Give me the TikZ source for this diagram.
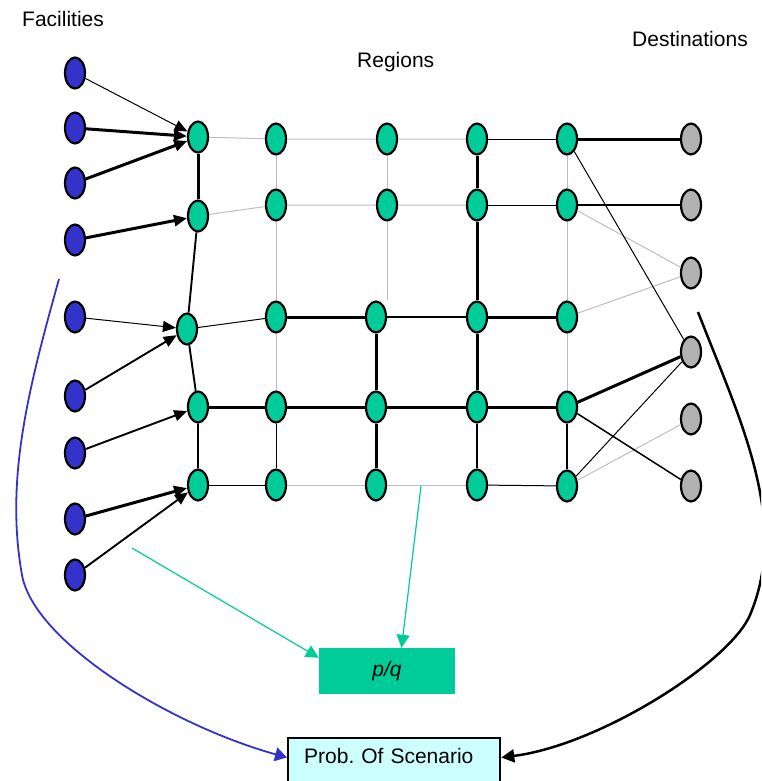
\documentclass[tikz,border=0pt]{standalone}
\usepackage{fontspec}
\setmainfont{Liberation Sans}
\usetikzlibrary{arrows.meta,shapes.geometric}
\definecolor{facblue}{RGB}{51,51,204}
\definecolor{regreen}{RGB}{0,204,153}
\definecolor{destgray}{RGB}{178,178,178}
\definecolor{probcyan}{RGB}{204,255,255}
\definecolor{gridgray}{RGB}{190,190,190}
\frenchspacing
\begin{document}
\begin{tikzpicture}[x=1pt,y=-1pt,
    every node/.style={font=\fontsize{21}{25}\selectfont},
    facnode/.style={draw,ellipse,line width=2.2pt,fill=facblue,minimum width=20pt,minimum height=31pt,inner sep=0pt},
    regnode/.style={facnode,fill=regreen},
    destnode/.style={facnode,fill=destgray},
    lbl/.style={anchor=base west,inner sep=0pt},
    heavyline/.style={line width=3pt},
    medline/.style={line width=1.9pt},
    liteline/.style={line width=1pt},
    gridline/.style={line width=1pt,draw=gridgray},
    feed/.style={-{Triangle[length=13pt,width=11pt]}},
    pqfeed/.style={draw=regreen,line width=1.2pt,-{Triangle[length=13pt,width=13pt]}},
    probbox/.style={draw,line width=2.3pt,fill=probcyan,anchor=base west,inner xsep=16pt,inner ysep=0pt,text width=180pt,align=left,text height=25pt,text depth=30pt},
    pqbox/.style={fill=regreen,minimum width=136pt,minimum height=46pt,inner sep=0pt}]
    \useasboundingbox (0,0) rectangle (761,781);
    \clip (0,0) rectangle (761,781);
    \node (facLbl) [lbl] at (22,27) {Facilities};
    \node (regLbl) [lbl] at (357,68) {Regions};
    \node (destLbl) [lbl] at (632,47) {Destinations};
    \node (F1) [facnode] at (75,73) {};
    \node (F2) [facnode] at (75,128) {};
    \node (F3) [facnode] at (75,183) {};
    \node (F4) [facnode] at (75,240) {};
    \node (F5) [facnode] at (75,317) {};
    \node (F6) [facnode] at (75,396) {};
    \node (F7) [facnode] at (75,453) {};
    \node (F8) [facnode] at (75,519) {};
    \node (F9) [facnode] at (75,575) {};
    \node (G11) [regnode] at (198,137) {};
    \node (G12) [regnode] at (198,216) {};
    \node (G13) [regnode] at (187,329) {};
    \node (G14) [regnode] at (198,407) {};
    \node (G15) [regnode] at (198,485) {};
    \node (G21) [regnode] at (276,139) {};
    \node (G22) [regnode] at (276,205) {};
    \node (G23) [regnode] at (276,317) {};
    \node (G24) [regnode] at (276,407) {};
    \node (G25) [regnode] at (276,485) {};
    \node (G31) [regnode] at (387,139) {};
    \node (G32) [regnode] at (387,205) {};
    \node (G33) [regnode] at (376,317) {};
    \node (G34) [regnode] at (376,407) {};
    \node (G35) [regnode] at (376,485) {};
    \node (G41) [regnode] at (477,139) {};
    \node (G42) [regnode] at (477,205) {};
    \node (G43) [regnode] at (477,317) {};
    \node (G44) [regnode] at (477,407) {};
    \node (G45) [regnode] at (477,485) {};
    \node (G51) [regnode] at (567,139) {};
    \node (G52) [regnode] at (567,205) {};
    \node (G53) [regnode] at (567,317) {};
    \node (G54) [regnode] at (567,407) {};
    \node (G55) [regnode] at (567,486) {};
    \node (D1) [destnode] at (691,139) {};
    \node (D2) [destnode] at (691,205) {};
    \node (D3) [destnode] at (691,273) {};
    \node (D4) [destnode] at (691,352) {};
    \node (D5) [destnode] at (691,419) {};
    \node (D6) [destnode] at (691,486) {};
    \node (pq) [pqbox] at (387,671) {\textit{p/q}};
    \node (prob) [probbox] at (287,763) {Prob. Of Scenario};
    \coordinate (blueStart) at (59,279);
    \coordinate (blackStart) at (698,312);
    \coordinate (slotA) at (421,486);
    \coordinate (slotB) at (132,548);
    \draw [feed,liteline] (F1) -- (G11);
    \draw [feed,heavyline] (F2) -- (G11);
    \draw [feed,heavyline] (F3) -- (G11);
    \draw [feed,heavyline] (F4) -- (G12);
    \draw [feed,liteline] (F5) -- (G13);
    \draw [feed,medline] (F6) -- (G13);
    \draw [feed,medline] (F7) -- (G14);
    \draw [feed,heavyline] (F8) -- (G15);
    \draw [feed,medline] (F9) -- (G15);
    \draw [gridline] (G11) -- (G21) -- (G31) -- (G41);
    \draw [gridline] (G12) -- (G22) -- (G32) -- (G42);
    \draw [gridline] (G21) -- (G22) -- (G23) -- (G24);
    \draw [gridline] (G31) -- (G32) -- (G32 |- G33.north);
    \draw [gridline] (G51) -- (G52) -- (G53) -- (G54);
    \draw [gridline] (G25) -- (G35) -- (G45);
    \draw [gridline] (G52) -- (D3);
    \draw [gridline] (G53) -- (D3);
    \draw [gridline] (G55) -- (D5);
    \draw [liteline] (G41) -- (G51);
    \draw [liteline] (G42) -- (G52);
    \draw [liteline] (G13) -- (G23);
    \draw [liteline] (G15) -- (G25);
    \draw [liteline] (G45) -- (G55);
    \draw [liteline] (G24) -- (G25);
    \draw [liteline] (G51) -- (D4);
    \draw [liteline] (G55) -- (D4);
    \draw [heavyline] (G11) -- (G12);
    \draw [heavyline] (G51) -- (D1);
    \draw [heavyline] (G23) -- (G33);
    \draw [heavyline] (G43) -- (G53);
    \draw [heavyline] (G14) -- (G24) -- (G34) -- (G44) -- (G54);
    \draw [heavyline] (G33) -- (G34) -- (G35);
    \draw [heavyline] (G41) -- (G42) -- (G43) -- (G44);
    \draw [heavyline] (G54) -- (D4);
    \draw [medline] (G12) -- (G13) -- (G14) -- (G15);
    \draw [medline] (G33) -- (G43);
    \draw [medline] (G44) -- (G45);
    \draw [medline] (G54) -- (G55);
    \draw [medline] (G52) -- (D2);
    \draw [line width=1.5pt] (G54) -- (D6);
    \draw [pqfeed] (slotA) -- (pq.58);
    \draw [pqfeed] (slotB) -- (pq.169);
    \draw [facblue,line width=1.8pt,-{Triangle[length=12pt,width=14pt]}] (blueStart) .. controls (28,390) and (5,480) .. (22,575) .. controls (34,642) and (170,725) .. ([yshift=8pt]prob.west);
    \draw [line width=2.5pt,-{Triangle[length=13pt,width=13pt]}] (blackStart) .. controls (740,420) and (790,520) .. (750,615) .. controls (730,662) and (600,745) .. ([yshift=8pt]prob.east);
\end{tikzpicture}
\end{document}
